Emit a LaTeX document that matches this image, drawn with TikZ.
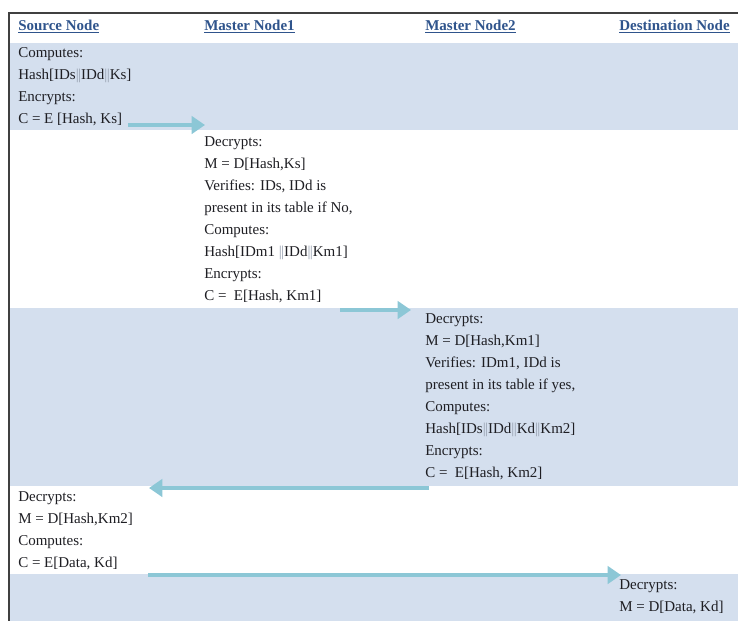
\documentclass[tikz,border=0pt]{standalone}
\usepackage{fontspec}
\setmainfont{Liberation Serif}
\usetikzlibrary{arrows.meta}

\definecolor{bandblue}{RGB}{212,223,238}
\definecolor{flowteal}{RGB}{140,199,214}
\definecolor{headblue}{RGB}{47,84,140}
\definecolor{txtgray}{RGB}{30,30,35}
\definecolor{bargray}{RGB}{150,160,175}
\newcommand{\idsep}{{\color{bargray}\textbar\kern-0.5pt\textbar}}

\tikzset{
  head/.style={anchor=base west,inner sep=0,font=\fontsize{11.25}{13}\selectfont\bfseries,text=headblue},
  step text/.style={anchor=north west,inner sep=0,align=left,text=txtgray,
    font=\fontsize{11.25}{16.5}\selectfont},
  flow/.style={line width=3.4pt,color=flowteal,-{Triangle[length=10pt,width=13pt]}}
}

\begin{document}
\begin{tikzpicture}[x=0.75pt,y=0.75pt,yscale=-1]
\useasboundingbox (0,0) rectangle (738,621);

%Shape: bands
\fill[bandblue] (10,43) rectangle (738,130);
\fill[bandblue] (10,308) rectangle (738,486);
\fill[bandblue] (10,574) rectangle (738,621);

%Shape: frame
\draw[line width=1.6pt,black!75] (8,13) -- (738,13);
\draw[line width=1.6pt,black!75] (9,13) -- (9,621);

% Text Node
\node[head] (hsrc) at (18,30) {\underline{Source Node}};
% Text Node
\node[head] (hmn1) at (204,30) {\underline{Master Node1}};
% Text Node
\node[head] (hmn2) at (425,30) {\underline{Master Node2}};
% Text Node
\node[head] (hdst) at (619,30) {\underline{Destination Node}};

% Text Node
\node[step text] (src1) at (18,47) {Computes:\\Hash[IDs\idsep IDd\idsep Ks]\\Encrypts:\\C = E [Hash, Ks]};
% Text Node
\node[step text] (mn1) at (204,136) {Decrypts:\\M = D[Hash,Ks]\\Verifies: IDs, IDd is\\present in its table if No,\\Computes:\\Hash[IDm1 \idsep IDd\idsep Km1]\\Encrypts:\\C = \ E[Hash, Km1]};
% Text Node
\node[step text] (mn2) at (425,313) {Decrypts:\\M = D[Hash,Km1]\\Verifies: IDm1, IDd is\\present in its table if yes,\\Computes:\\Hash[IDs\idsep IDd\idsep Kd\idsep Km2]\\Encrypts:\\C = \ E[Hash, Km2]};
% Text Node
\node[step text] (src2) at (18,491) {Decrypts:\\M = D[Hash,Km2]\\Computes:\\C = E[Data, Kd]};
% Text Node
\node[step text] (dst) at (619,579) {Decrypts:\\M = D[Data, Kd]};

%Arrows
\coordinate (f1s) at (128,125);
\coordinate (f1e) at (205,125);
\coordinate (f2s) at (340,310);
\coordinate (f2e) at (411,310);
\coordinate (f3s) at (429,488);
\coordinate (f3e) at (149,488);
\coordinate (f4s) at (148,575);
\coordinate (f4e) at (621,575);
\draw[flow] (f1s) -- (f1e);
\draw[flow] (f2s) -- (f2e);
\draw[flow] (f3s) -- (f3e);
\draw[flow] (f4s) -- (f4e);

\end{tikzpicture}
\end{document}
